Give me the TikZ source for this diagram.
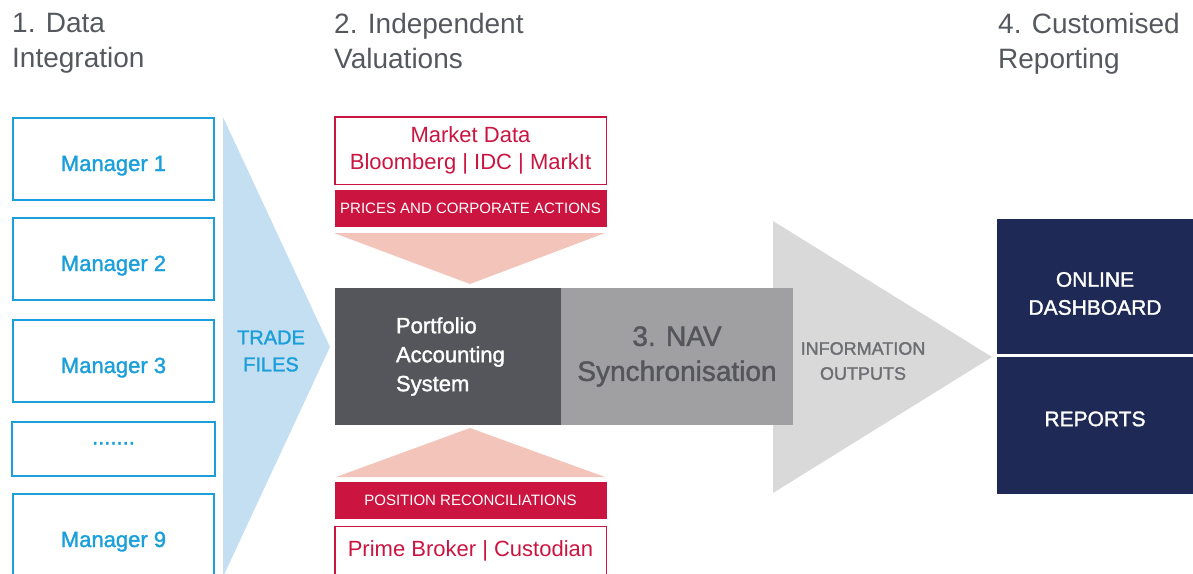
\documentclass[tikz,border=0pt]{standalone}
\usepackage{fontspec}
\setmainfont{Liberation Sans}
\newfontfamily\medfont[FakeBold=1.5]{Liberation Sans}
\usetikzlibrary{positioning}
\definecolor{mgrblue}{HTML}{1A9FDB}
\definecolor{tradeblue}{HTML}{C5DFF2}
\definecolor{srcred}{HTML}{CC1440}
\definecolor{arrowpink}{HTML}{F2C4BA}
\definecolor{pasgray}{HTML}{55565B}
\definecolor{navgray}{HTML}{A09FA2}
\definecolor{outgray}{HTML}{D9D9D9}
\definecolor{outtext}{HTML}{6D6E72}
\definecolor{navy}{HTML}{1E2A55}
\definecolor{headgray}{HTML}{55585E}

\begin{document}
\begin{tikzpicture}[
        x=1pt, y=-1pt,
        heading/.style = {anchor=north west, align=left, inner sep=0pt,
                text=headgray, font=\fontsize{28}{35}\selectfont},
        manager/.style = {draw=mgrblue, line width=2pt, text=mgrblue,
                minimum width=201pt, minimum height=82pt,
                text height=24pt, text depth=0pt,
                font=\medfont\fontsize{22}{26}\selectfont},
        source/.style = {draw=srcred, line width=1.5pt, text=srcred, align=center,
                minimum width=271.5pt, font=\fontsize{22}{27}\selectfont},
        flag/.style = {fill=srcred, text=white, minimum width=272pt,
                minimum height=37pt, inner sep=0pt, font=\fontsize{15}{18}\selectfont},
        output/.style = {fill=navy, minimum width=196pt},
        outlabel/.style = {text=white, align=center,
                font=\medfont\fontsize{21}{28}\selectfont}
    ]
    \useasboundingbox (0,0) rectangle (1193,573);

    \node[heading] (h1) at (12,13) {1. Data\\Integration};
    \node[heading] (h2) at (334,13) {2. Independent\\Valuations};
    \node[heading] (h4) at (998,13) {4. Customised\\Reporting};

    \fill[tradeblue] (223,117) -- (330,347) -- (223,577) -- cycle;
    \fill[outgray] (773,221) -- (992,357) -- (773,493) -- cycle;
    \fill[arrowpink] (334,233) -- (605,233) -- (470,284) -- cycle;
    \fill[arrowpink] (470,428) -- (605,477) -- (336,477) -- cycle;

    \node[manager] (m1) at (113.5,159) {Manager 1};
    \node[manager, below=16pt of m1] (m2) {Manager 2};
    \node[manager, below=18pt of m2] (m3) {Manager 3};
    \node[manager, minimum width=203pt, minimum height=54pt, text height=0pt,
        text depth=9pt, below=18pt of m3] (mdots) {.......};
    \node[manager, below=16pt of mdots] (m9) {Manager 9};

    \node[text=mgrblue, align=center, font=\medfont\fontsize{20}{27}\selectfont]
        (trade) at (271,351) {TRADE\\FILES};

    \node[source, minimum height=67.5pt] (market) at (470.5,150.5)
        {Market Data\\Bloomberg | IDC | MarkIt};
    \node[flag, below=5pt of market] (prices) {PRICES AND CORPORATE ACTIONS};

    \node[fill=pasgray, minimum width=226pt, minimum height=137pt]
        (pas) at (448,356.5) {};
    \node[anchor=west, align=left, text=white, inner sep=0pt,
        font=\medfont\fontsize{22}{29}\selectfont]
        (pastext) at ([xshift=61pt]pas.west) {Portfolio\\Accounting\\System};
    \node[fill=navgray, text=pasgray, align=center, minimum width=232pt,
        minimum height=137pt, font=\medfont\fontsize{28}{35}\selectfont]
        (nav) at (677,356.5) {3. NAV\\Synchronisation};

    \node[flag] (recon) at (470.5,500.5) {POSITION RECONCILIATIONS};
    \node[source, anchor=north, minimum height=48.5pt] (broker) at (470.5,525.75)
        {Prime Broker | Custodian};

    \node[text=outtext, align=center, font=\medfont\fontsize{18}{25}\selectfont]
        (info) at (863,361) {INFORMATION\\OUTPUTS};

    \node[output, minimum height=135pt] (dash) at (1095,286.5) {};
    \node[output, minimum height=137pt, below=3pt of dash] (reports) {};
    \node[outlabel] (dashtext) at ([yshift=-7pt]dash.center) {ONLINE\\DASHBOARD};
    \node[outlabel] (reptext) at ([yshift=7pt]reports.center) {REPORTS};
\end{tikzpicture}
\end{document}
